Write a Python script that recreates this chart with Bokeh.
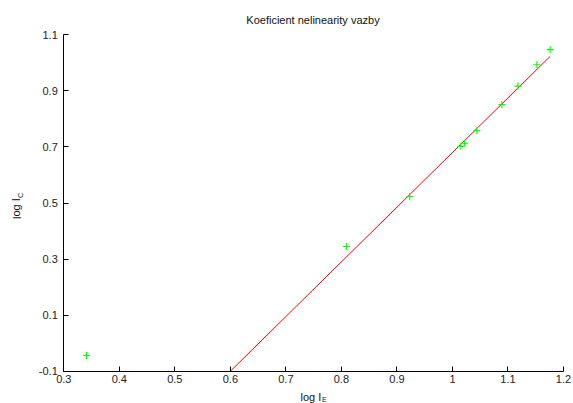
from bokeh.plotting import figure
from bokeh.models import FixedTicker, CustomJSTickFormatter, Label, Range1d
from bokeh.embed import file_html
from bokeh.resources import INLINE

# data
log_ie = [0.341, 0.809, 0.923, 1.015, 1.022, 1.044, 1.089, 1.118, 1.152, 1.176]
log_ic = [-0.044, 0.345, 0.523, 0.702, 0.713, 0.758, 0.851, 0.917, 0.993, 1.047]
fit_slope = 1.95
fit_intercept = -1.27
fit_x = [0.6, 1.176]
x_ticks = [0.3, 0.4, 0.5, 0.6, 0.7, 0.8, 0.9, 1.0, 1.1, 1.2]
y_ticks = [-0.1, 0.1, 0.3, 0.5, 0.7, 0.9, 1.1]
x_lim = (0.3, 1.2)
y_lim = (-0.1, 1.1)

FONT = "Liberation Sans"
W, H = 573, 403
# axes box inside the canvas (pixels)
L, R, T, B = 63.3, 563.0, 34.3, 370.7
sx = (x_lim[1] - x_lim[0]) / (R - L)
sy = (y_lim[1] - y_lim[0]) / (B - T)

p = figure(width=W, height=H, output_backend="svg", toolbar_location=None,
           x_range=Range1d(x_lim[0] - L * sx, x_lim[1] + (W - R) * sx),
           y_range=Range1d(y_lim[0] - (H - B) * sy, y_lim[1] + T * sy),
           min_border=0)
p.title.visible = False
p.outline_line_color = None
p.xgrid.visible = False
p.ygrid.visible = False

p.xaxis.fixed_location = y_lim[0]
p.yaxis.fixed_location = x_lim[0]
p.xaxis.bounds = x_lim
p.yaxis.bounds = y_lim

for ax, ticks in ((p.xaxis, x_ticks), (p.yaxis, y_ticks)):
    ax.ticker = FixedTicker(ticks=ticks)
    ax.formatter = CustomJSTickFormatter(code="return String(Number(tick.toFixed(2)));")
    ax.major_tick_in = 5
    ax.major_tick_out = 0
    ax.minor_tick_line_color = None
    ax.axis_line_color = "black"
    ax.major_tick_line_color = "black"
    ax.major_label_text_font = FONT
    ax.major_label_text_font_size = "11px"
    ax.major_label_text_color = "#222222"
p.xaxis.major_label_standoff = 4
p.yaxis.major_label_standoff = 6

fit_y = [fit_slope * x + fit_intercept for x in fit_x]
p.line(fit_x, fit_y, line_color="#ff0000", line_width=1)
p.scatter(log_ie, log_ic, marker="cross", size=7, line_color="#00ff00", line_width=1.1)

# title and axis labels (screen units, origin at bottom-left of the canvas)
def lab(x, y, text, size, angle=0.0, align="left"):
    p.add_layout(Label(x=x, y=y, x_units="screen", y_units="screen", text=text,
                       text_font=FONT, text_font_size=size, angle=angle,
                       text_align=align, text_baseline="middle", text_color="#111111"))

lab(312.5, H - 19, "Koeficient nelinearity vazby", "11px", align="center")
lab(300, H - 396, "log I", "11px")
lab(321.5, H - 398.5, "E", "7px")
lab(16, H - 218.5, "log I", "11px", angle=1.5708)
lab(19.5, H - 197.5, "C", "7.5px", angle=1.5708)

open("out.html", "w").write(file_html(p, INLINE))
